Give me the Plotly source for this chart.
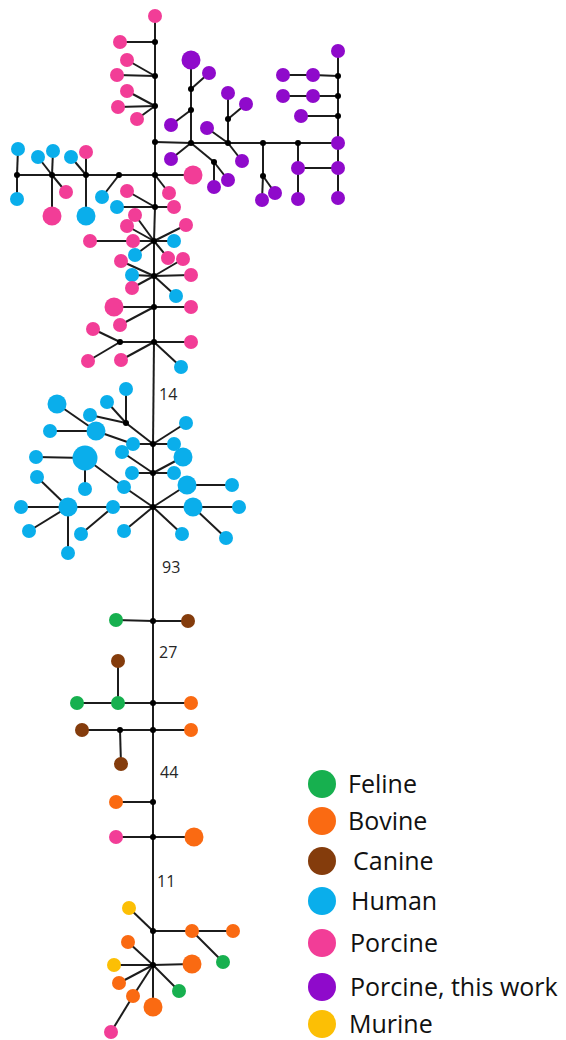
import plotly.graph_objects as go

# ---- haplotype network data -------------------------------------------
# Host groups (legend order) and their colours
GROUPS = ["Feline", "Bovine", "Canine", "Human", "Porcine",
          "Porcine, this work", "Murine"]
GROUP_COLORS = {
    "Feline": "#17B04F",
    "Bovine": "#FA6A12",
    "Canine": "#843C0C",
    "Human": "#0AAEEB",
    "Porcine": "#F23D97",
    "Porcine, this work": "#8F0ACB",
    "Murine": "#FCBF05",
}

# Haplotypes: (id, host group, frequency)
HAP_PORCINE_TOP = [
    ("a0", "Porcine", 1), ("p1", "Porcine", 1), ("p2", "Porcine", 1),
    ("p3", "Porcine", 1), ("p4", "Porcine", 1), ("p5", "Porcine", 1),
    ("p6", "Porcine", 1), ("h1", "Human", 1), ("h2", "Human", 1),
    ("h3", "Human", 1), ("h4", "Human", 1), ("p7", "Porcine", 1),
    ("p8", "Porcine", 2), ("h5", "Human", 1), ("p9", "Porcine", 1),
    ("h6", "Human", 2), ("h7", "Human", 1), ("p10", "Porcine", 2),
    ("p11", "Porcine", 1), ("p12", "Porcine", 1), ("h8", "Human", 1),
    ("p13", "Porcine", 1),
]
HAP_THIS_WORK = [
    ("w1", "Porcine, this work", 2), ("w2", "Porcine, this work", 1),
    ("w3", "Porcine, this work", 1), ("w4", "Porcine, this work", 1),
    ("w5", "Porcine, this work", 1), ("w6", "Porcine, this work", 1),
    ("w7", "Porcine, this work", 1), ("w8", "Porcine, this work", 1),
    ("w9", "Porcine, this work", 1), ("w10", "Porcine, this work", 1),
    ("w11", "Porcine, this work", 1), ("w12", "Porcine, this work", 1),
    ("w13", "Porcine, this work", 1), ("w14", "Porcine, this work", 1),
    ("w15", "Porcine, this work", 1), ("w16", "Porcine, this work", 1),
    ("w17", "Porcine, this work", 1), ("w18", "Porcine, this work", 1),
    ("w19", "Porcine, this work", 1), ("w20", "Porcine, this work", 1),
    ("w21", "Porcine, this work", 1), ("w22", "Porcine, this work", 1),
    ("w23", "Porcine, this work", 1),
]
HAP_PORCINE_MID = [
    ("p14", "Porcine", 1), ("p15", "Porcine", 1), ("p16", "Porcine", 1),
    ("p17", "Porcine", 1), ("p18", "Porcine", 1), ("h9", "Human", 1),
    ("h10", "Human", 1), ("p19", "Porcine", 1), ("p20", "Porcine", 1),
    ("h11", "Human", 1), ("p21", "Porcine", 1), ("p22", "Porcine", 1),
    ("p23", "Porcine", 1), ("h12", "Human", 1), ("p24", "Porcine", 2),
    ("p25", "Porcine", 1), ("p26", "Porcine", 1), ("p27", "Porcine", 1),
    ("p28", "Porcine", 1), ("p29", "Porcine", 1), ("p30", "Porcine", 1),
    ("h13", "Human", 1),
]
HAP_HUMAN = [
    ("h14", "Human", 1), ("h15", "Human", 1), ("h16", "Human", 1),
    ("h17", "Human", 1), ("h18", "Human", 1), ("h19", "Human", 1),
    ("h20", "Human", 2), ("h21", "Human", 2), ("h22", "Human", 1),
    ("h23", "Human", 1), ("h24", "Human", 2), ("h25", "Human", 1),
    ("h26", "Human", 1), ("h27", "Human", 1), ("h28", "Human", 3),
    ("h29", "Human", 1), ("h30", "Human", 1), ("h31", "Human", 1),
    ("h32", "Human", 2), ("h33", "Human", 1), ("h34", "Human", 1),
    ("h35", "Human", 1), ("h36", "Human", 1), ("h37", "Human", 1),
    ("h38", "Human", 1), ("h39", "Human", 1), ("h40", "Human", 2),
    ("h41", "Human", 1), ("h42", "Human", 2), ("h43", "Human", 1),
    ("h44", "Human", 1),
]
HAP_OTHER_HOSTS = [
    ("f1", "Feline", 1), ("k1", "Canine", 1), ("f2", "Feline", 1),
    ("f3", "Feline", 1), ("k2", "Canine", 1), ("b1o", "Bovine", 1),
    ("k3", "Canine", 1), ("k4", "Canine", 1), ("b2", "Bovine", 1),
    ("b3", "Bovine", 1), ("p31", "Porcine", 1), ("b4", "Bovine", 2),
    ("m1", "Murine", 1), ("b5", "Bovine", 1), ("b6", "Bovine", 1),
    ("f4", "Feline", 1), ("b7", "Bovine", 1), ("m2", "Murine", 1),
    ("b8", "Bovine", 2), ("b9", "Bovine", 1), ("b10", "Bovine", 1),
    ("p32", "Porcine", 1), ("b11", "Bovine", 2), ("f5", "Feline", 1),
]
# Median vectors (inferred, unsampled haplotypes)
MEDIAN_VECTORS = [
    "a1", "a2", "a3", "a4", "a5", "a6", "a7", "a8", "a9", "a10",
    "l1", "l2", "l3", "l4", "b1",
    "w0j", "wj1", "wj2", "wj3", "wj4", "wj5", "wj6", "wj7", "wj8",
    "wj9", "wj10", "wj11",
    "hj0", "hj1", "hj2", "hj3",
    "c1", "c2", "c3", "c4", "c5", "c6", "d1", "d2",
]

# Network links
EDGES_BACKBONE = [
    ("a0", "a1"), ("a1", "a2"), ("a2", "a3"), ("a3", "a4"), ("a4", "a5"),
    ("a5", "a6"), ("a6", "a7"), ("a7", "a8"), ("a8", "a9"), ("a9", "a10"),
    ("a10", "hj1"), ("hj1", "hj2"), ("hj2", "hj3"), ("hj3", "c1"),
    ("c1", "c2"), ("c2", "c3"), ("c3", "c5"), ("c5", "c6"), ("c6", "d1"),
    ("d1", "d2"), ("d2", "b11"),
]
EDGES_PORCINE_TOP = [
    ("a1", "p1"), ("a2", "p2"), ("a2", "p3"), ("a3", "p4"), ("a3", "p5"),
    ("a3", "p6"), ("a5", "l4"), ("l4", "l3"), ("l3", "l2"), ("l2", "l1"),
    ("l1", "h1"), ("l1", "h2"), ("l2", "h3"), ("l2", "h4"), ("l2", "p7"),
    ("l2", "p8"), ("l3", "h5"), ("l3", "p9"), ("l3", "h6"), ("l4", "h7"),
    ("a5", "p10"), ("a5", "p11"), ("a6", "p12"), ("a6", "h8"),
    ("a6", "p13"),
]
EDGES_THIS_WORK = [
    ("a4", "w0j"), ("w0j", "wj2"), ("wj2", "wj1"), ("wj1", "w1"),
    ("wj1", "w2"), ("wj2", "w3"), ("w0j", "w4"), ("w0j", "wj3"),
    ("wj3", "w5"), ("wj3", "w6"), ("w0j", "wj4"), ("wj4", "wj5"),
    ("wj5", "wj6"), ("wj6", "w7"), ("wj4", "wj7"), ("wj7", "w8"),
    ("wj7", "w9"), ("wj4", "w10"), ("wj4", "w11"), ("wj5", "wj8"),
    ("wj8", "w12"), ("wj8", "w13"), ("wj6", "w14"), ("w14", "w15"),
    ("w14", "w16"), ("w7", "w16"), ("w16", "w17"), ("w7", "wj9"),
    ("wj9", "wj10"), ("wj10", "wj11"), ("wj11", "w23"), ("wj9", "w18"),
    ("wj10", "w19"), ("w19", "w20"), ("wj11", "w21"), ("w21", "w22"),
]
EDGES_PORCINE_MID = [
    ("a7", "p14"), ("a7", "p15"), ("a7", "p16"), ("p16", "p17"),
    ("a7", "p18"), ("a7", "h9"), ("a7", "h10"), ("a7", "p19"),
    ("a8", "p20"), ("a8", "h11"), ("a8", "p21"), ("a8", "p22"),
    ("a8", "p23"), ("a8", "h12"), ("a9", "p24"), ("a9", "p25"),
    ("a9", "p26"), ("a10", "b1"), ("b1", "p27"), ("b1", "p28"),
    ("a10", "p29"), ("a10", "p30"), ("a10", "h13"),
]
EDGES_HUMAN = [
    ("hj1", "hj0"), ("hj0", "h14"), ("hj0", "h15"), ("hj0", "h16"),
    ("hj1", "h17"), ("hj1", "h18"), ("hj1", "h19"), ("h19", "h20"),
    ("h20", "h21"), ("h20", "h22"), ("hj2", "h23"), ("hj2", "h24"),
    ("hj2", "h25"), ("hj2", "h26"), ("hj3", "h27"), ("h27", "h28"),
    ("h28", "h29"), ("h28", "h30"), ("hj3", "h31"), ("h31", "h32"),
    ("h32", "h33"), ("h32", "h34"), ("h32", "h35"), ("h32", "h36"),
    ("h31", "h37"), ("hj3", "h38"), ("hj3", "h39"), ("hj3", "h40"),
    ("h40", "h41"), ("hj3", "h42"), ("h42", "h43"), ("h42", "h44"),
]
EDGES_OTHER_HOSTS = [
    ("c1", "f1"), ("c1", "k1"), ("c2", "f2"), ("f2", "f3"), ("f2", "k2"),
    ("c2", "b1o"), ("c3", "c4"), ("c4", "k3"), ("c4", "k4"), ("c3", "b2"),
    ("c5", "b3"), ("c6", "p31"), ("c6", "b4"), ("d1", "m1"), ("d1", "b5"),
    ("b5", "b6"), ("b5", "f4"), ("d2", "b7"), ("d2", "m2"), ("d2", "b8"),
    ("d2", "b9"), ("d2", "b10"), ("b10", "p32"), ("d2", "f5"),
]

# Number of mutational steps on long branches
MUTATION_STEPS = [("a10", "hj1", "14"), ("hj3", "c1", "93"),
                  ("c1", "c2", "27"), ("c3", "c5", "44"), ("c6", "d1", "11")]

# ---- network layout (pixel frame, y grows downward) --------------------
POS = {
    # porcine backbone, top
    "a0": (155, 16), "a1": (155, 42), "a2": (155, 76), "a3": (155, 106),
    "a4": (155, 142), "a5": (155, 175), "a6": (155, 207),
    "p1": (120, 42), "p2": (127, 60), "p3": (117, 75), "p4": (127, 91),
    "p5": (118, 107), "p6": (137, 119),
    "l4": (119, 175), "l3": (86, 175), "l2": (52, 175), "l1": (17, 175),
    "h1": (18, 149), "h2": (17, 199), "h3": (38, 157), "h4": (53, 151),
    "p7": (66, 192), "p8": (52, 216), "h5": (71, 157), "p9": (86, 152),
    "h6": (86, 216), "h7": (102, 197), "p10": (193, 175), "p11": (169, 193),
    "p12": (127, 191), "h8": (117, 207), "p13": (174, 207),
    # porcine, this work
    "w0j": (191, 143), "wj1": (191, 89), "wj2": (191, 110), "w1": (191, 60),
    "w2": (209, 73), "w3": (171, 125), "w4": (171, 159), "wj3": (214, 162),
    "w5": (214, 187), "w6": (228, 180), "wj4": (228, 143),
    "wj5": (263, 143), "wj6": (298, 143), "w7": (338, 143),
    "wj7": (228, 119), "w8": (228, 93), "w9": (246, 104), "w10": (207, 128),
    "w11": (242, 161), "wj8": (263, 176), "w12": (262, 200),
    "w13": (275, 193), "w14": (298, 168), "w15": (298, 199),
    "w16": (338, 168), "w17": (338, 198), "wj9": (338, 116),
    "wj10": (338, 96), "wj11": (338, 76), "w23": (338, 51),
    "w18": (301, 116), "w19": (313, 96), "w20": (283, 96),
    "w21": (313, 75), "w22": (283, 75),
    # porcine backbone, middle
    "a7": (154, 241), "a8": (154, 276), "a9": (154, 307), "a10": (154, 342),
    "p14": (135, 215), "p15": (127, 226), "p16": (133, 241),
    "p17": (90, 241), "p18": (186, 225), "h9": (174, 241),
    "h10": (135, 255), "p19": (168, 258), "p20": (121, 261),
    "h11": (132, 275), "p21": (132, 288), "p22": (183, 259),
    "p23": (191, 275), "h12": (176, 296), "p24": (114, 307),
    "p25": (191, 307), "p26": (120, 325), "b1": (120, 342),
    "p27": (93, 329), "p28": (88, 361), "p29": (191, 342),
    "p30": (121, 360), "h13": (181, 367),
    # human cluster
    "hj0": (126, 423), "hj1": (153, 444), "hj2": (153, 473),
    "hj3": (153, 507),
    "h14": (126, 389), "h15": (107, 402), "h16": (90, 415),
    "h17": (186, 423), "h18": (174, 444), "h19": (133, 444),
    "h20": (96, 431), "h21": (57, 404), "h22": (50, 431),
    "h23": (122, 452), "h24": (183, 457), "h25": (132, 473),
    "h26": (174, 473), "h27": (124, 487), "h28": (85, 458),
    "h29": (36, 457), "h30": (85, 489), "h31": (113, 507),
    "h32": (68, 507), "h33": (21, 507), "h34": (37, 477),
    "h35": (29, 531), "h36": (68, 553), "h37": (81, 534),
    "h38": (124, 531), "h39": (182, 534), "h40": (187, 485),
    "h41": (232, 485), "h42": (193, 507), "h43": (239, 507),
    "h44": (226, 538),
    # feline / canine / bovine / murine part
    "c1": (153, 621), "f1": (116, 620), "k1": (188, 621),
    "c2": (153, 703), "f2": (118, 703), "f3": (77, 703), "k2": (118, 661),
    "b1o": (191, 703), "c3": (153, 730), "c4": (120, 730),
    "k3": (82, 730), "k4": (121, 764), "b2": (191, 730),
    "c5": (153, 802), "b3": (116, 802), "c6": (153, 837),
    "p31": (116, 837), "b4": (194, 837),
    "d1": (153, 931), "m1": (129, 908), "b5": (192, 931),
    "b6": (233, 931), "f4": (223, 962),
    "d2": (153, 965), "b7": (128, 942), "m2": (114, 965),
    "b8": (192, 964), "b9": (119, 983), "b10": (133, 996),
    "p32": (111, 1032), "b11": (153, 1007), "f5": (179, 991),
}
STEP_LABEL_POS = {"14": (168, 394), "93": (171, 567), "27": (168, 652),
                  "44": (169, 772), "11": (166, 881)}

W, H = 566, 1040
SIZE_BY_FREQ = {1: 14, 2: 19, 3: 25}
LINE_COLOR = "#1c1c1c"
TEXT_COLOR = "#262626"
FONT = "Open Sans, Lato, DejaVu Sans, sans-serif"

fig = go.Figure()

# links
all_edges = (EDGES_BACKBONE + EDGES_PORCINE_TOP + EDGES_THIS_WORK +
             EDGES_PORCINE_MID + EDGES_HUMAN + EDGES_OTHER_HOSTS)
ex, ey = [], []
for u, v in all_edges:
    ex += [POS[u][0], POS[v][0], None]
    ey += [POS[u][1], POS[v][1], None]
fig.add_trace(go.Scatter(x=ex, y=ey, mode="lines",
                         line=dict(color=LINE_COLOR, width=2),
                         hoverinfo="skip", showlegend=False))

# median vectors
fig.add_trace(go.Scatter(
    x=[POS[n][0] for n in MEDIAN_VECTORS],
    y=[POS[n][1] for n in MEDIAN_VECTORS],
    mode="markers", marker=dict(color="black", size=6, opacity=1),
    hoverinfo="skip", showlegend=False))

# haplotypes, one trace per host group
haplotypes = (HAP_PORCINE_TOP + HAP_THIS_WORK + HAP_PORCINE_MID +
              HAP_HUMAN + HAP_OTHER_HOSTS)
for g in GROUPS:
    members = [h for h in haplotypes if h[1] == g]
    fig.add_trace(go.Scatter(
        x=[POS[h[0]][0] for h in members],
        y=[POS[h[0]][1] for h in members],
        mode="markers",
        marker=dict(color=GROUP_COLORS[g],
                    size=[SIZE_BY_FREQ[h[2]] for h in members],
                    opacity=1, line=dict(width=0)),
        name=g, text=[h[0] for h in members], hoverinfo="text",
        showlegend=False))

# mutation step labels
for u, v, lab in MUTATION_STEPS:
    lx, ly = STEP_LABEL_POS[lab]
    fig.add_annotation(x=lx, y=ly, text=lab, showarrow=False,
                       xanchor="center", yanchor="middle",
                       font=dict(family=FONT, size=16, color=TEXT_COLOR))

# legend drawn as markers and text
LEG_X, LEG_TEXT_X = 322, 347
LEG_Y = [784, 821, 861, 901, 943, 987, 1024]
LEG_TEXT_DX = [0, 0, 5, 3, 2, 2, 1]
fig.add_trace(go.Scatter(
    x=[LEG_X] * len(GROUPS), y=LEG_Y, mode="markers",
    marker=dict(color=[GROUP_COLORS[g] for g in GROUPS], size=28,
                opacity=1, line=dict(width=0)),
    hoverinfo="skip", showlegend=False))
for g, y, dx in zip(GROUPS, LEG_Y, LEG_TEXT_DX):
    fig.add_annotation(x=LEG_TEXT_X + dx, y=y - 1, text=g, showarrow=False,
                       xanchor="left", yanchor="middle", borderpad=0,
                       font=dict(family=FONT, size=25, color="#111111"))

fig.update_layout(
    width=W, height=H,
    margin=dict(l=0, r=0, t=0, b=0),
    paper_bgcolor="white", plot_bgcolor="white",
    xaxis=dict(range=[0, W], visible=False, fixedrange=True),
    yaxis=dict(range=[H, 0], visible=False, fixedrange=True),
    showlegend=False,
)

fig.write_html("out.html")
